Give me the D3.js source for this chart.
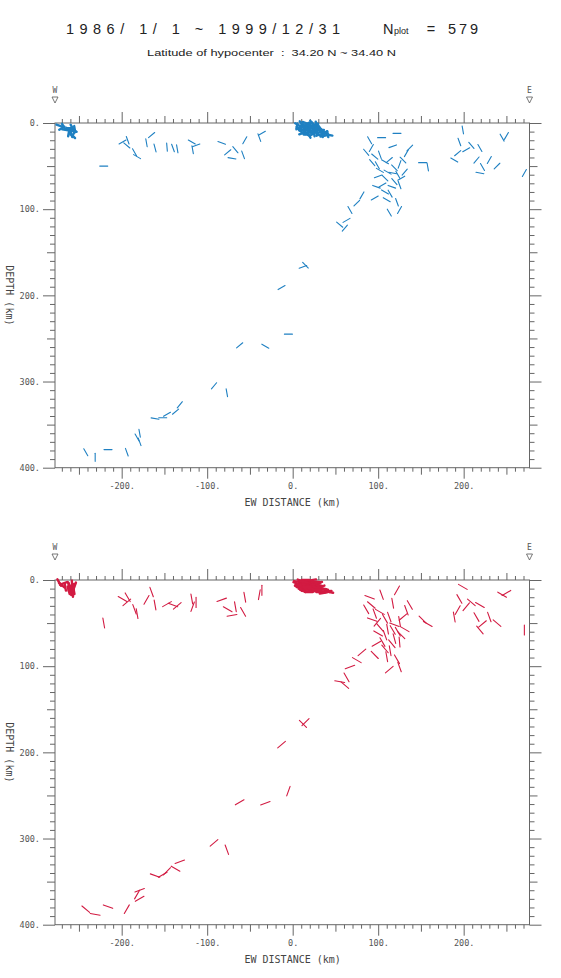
<!DOCTYPE html>
<html>
<head>
<meta charset="utf-8">
<script src="https://cdn.jsdelivr.net/npm/d3@7"></script>
<style>
  body { margin: 0; background: #fff; }
</style>
</head>
<body>
<div id="wrapper"></div>
<script>
// DATA: each event = [EW distance km, depth km, blue axis angle deg, red axis angle deg]
const westCluster = [
  [-273, 3, 20, 60], [-270, 6, -30, 40], [-268, 4, 60, -20], [-266, 8, 10, 80],
  [-262, 8, 45, 90], [-260, 10, 90, 70], [-258, 9, 30, 100], [-256, 12, 120, 80],
  [-259, 13, 70, 90], [-261, 6, 0, 60], [-255, 7, 80, 110], [-257, 15, 45, 90],
  [-262, 12, 100, 75], [-258, 5, 60, 85], [-256, 9, 20, 95]
]
const mainCluster = [
  [6, 2, 30, 10], [8, 5, -20, 0], [10, 1, 60, 20], [12, 4, 10, -10], [14, 7, 80, 15],
  [16, 2, -40, 5], [18, 5, 20, 30], [20, 8, 50, -15], [22, 3, -10, 10], [24, 6, 70, 0],
  [26, 9, 30, 20], [28, 4, -60, -5], [9, 9, 40, 10], [11, 12, -20, 25], [13, 10, 90, -20],
  [15, 13, 20, 5], [17, 11, -45, 15], [19, 14, 60, 0], [21, 11, 10, 30], [23, 13, -30, -10],
  [25, 12, 80, 10], [27, 7, 15, 20], [29, 9, -70, 0], [31, 6, 40, 15], [33, 8, 0, -20],
  [35, 10, 60, 10], [37, 11, -20, 5], [39, 12, 30, 25], [41, 13, 80, -5], [43, 14, 10, 10],
  [30, 12, -50, 20], [32, 14, 20, 0], [34, 13, 70, 15], [36, 15, -10, -10], [7, 7, 50, 5],
  [5, 4, -80, 20], [15, 0, 20, 0], [19, 1, -30, 10], [23, 0, 45, -10], [27, 2, 90, 5],
  [12, 8, 0, 15], [18, 9, 35, -5], [24, 10, -15, 20], [28, 11, 65, 0], [20, 4, -75, 10],
  [14, 4, 25, -15], [10, 6, -45, 5], [26, 5, 15, 25], [30, 3, 55, -10], [22, 9, -25, 0],
  [16, 6, 10, 5], [21, 6, -20, -5], [13, 2, 40, 10], [25, 8, -35, 15], [17, 8, 70, 0]
]
const shallowRow = [
  [-199, 22, -30, 30], [-193, 20, 70, 60], [-194, 26, 40, -40], [-185, 34, 60, 70],
  [-182, 39, 30, 80], [-171, 23, 80, -60], [-165, 14, -40, 70], [-161, 29, 75, 80],
  [-147, 28, 85, -30], [-140, 29, 70, 20], [-135, 30, 80, -40], [-118, 22, 30, 80],
  [-117, 31, 80, -70], [-113, 26, -20, 90], [-221, 50, 0, 80], [-83, 23, 20, -20],
  [-76, 34, -40, 30], [-67, 31, 50, 80], [-58, 37, 70, 60], [-56, 20, -60, 80],
  [-71, 41, 10, -10], [-39, 17, 70, 100], [-36, 12, -30, 90]
]
const eastCluster = [
  [104, 17, 0, 70], [122, 12, 0, -60], [117, 27, -20, 80], [86, 34, 50, 60], [92, 29, -60, 40],
  [96, 39, 40, 70], [102, 37, 70, 30], [108, 45, 30, 60], [99, 49, 60, -50], [113, 43, -40, 70],
  [119, 52, 45, 20], [111, 57, 30, 80], [123, 60, 60, 60], [127, 64, -30, 45], [119, 68, 50, 75],
  [116, 74, 20, 50], [125, 72, 70, 85], [131, 57, -50, 30], [133, 35, -60, 70], [129, 43, 45, -40],
  [137, 29, -45, 60], [90, 20, 60, 20], [102, 55, 30, 50], [108, 64, 45, 70], [152, 46, 0, 45],
  [158, 51, 80, 30], [98, 74, 20, -30], [105, 72, -30, 60], [96, 87, -30, 45], [110, 89, 30, 80],
  [122, 92, 70, 60], [113, 104, 60, -40], [125, 101, -60, 70], [75, 93, -45, 30], [67, 101, 60, -20],
  [63, 113, -30, 60], [55, 118, 40, 10], [61, 122, -50, 40], [81, 84, -60, -40], [108, 80, 30, 50],
  [114, 82, 60, 80], [100, 62, -20, 30], [117, 58, 10, 60], [93, 46, 50, 20], [125, 48, -70, 80]
]
const farEast = [
  [199, 8, 80, 30], [195, 22, 70, 60], [193, 35, -40, -60], [189, 43, 30, 80], [209, 26, 50, 40],
  [219, 29, 60, 30], [215, 43, -50, 60], [222, 51, 60, -40], [230, 43, -60, 70], [219, 58, 10, 50],
  [245, 17, 60, 30], [250, 15, -60, -30], [271, 58, -60, 90], [203, 31, -30, -50], [239, 50, -45, 40]
]
const slab = [
  [12, 167, -20, 45], [15, 165, 45, -45], [-13, 191, -30, -40], [-5, 245, 0, -70],
  [-62, 258, -40, -30], [-32, 259, 30, -20], [-92, 305, -50, -40], [-77, 313, 80, 70],
  [-132, 327, -50, -20], [-137, 335, -40, 30], [-152, 342, 0, -30], [-161, 343, 10, 20],
  [-179, 360, 80, -20], [-182, 365, 60, -60], [-179, 370, 70, -30], [-216, 379, 0, 20],
  [-231, 388, 90, 10], [-242, 382, 60, 40], [-194, 382, 70, -60], [-147, 338, -30, -45]
]

// tick values
const xMajor = [-200, -100, 0, 100, 200]
const xMedium = [-250, -150, -50, 50, 150, 250]
const xMinor = d3.range(-270, 271, 10).filter(v => v % 50 !== 0)
const yMajor = [0, 100, 200, 300, 400]
const yMedium = [50, 150, 250, 350]
const yMinor = d3.range(10, 400, 10).filter(v => v % 50 !== 0)

const titleText = "1986/ 1/ 1 ~ 1999/12/31"
const nplot = 579
const subtitleText = "Latitude of hypocenter \u00a0:\u00a0 34.20 N ~ 34.40 N"

async function drawChart() {

    const dimensions = {
        width: 561,
        height: 978,
        left: 55,
        right: 529.5,
        panelHeight: 344.7,
        panelTops: [123, 580]
    }

    const wrapper = d3.select('#wrapper')
        .append('svg')
        .attr('width', dimensions.width)
        .attr('height', dimensions.height)
        .style('font-family', "'DejaVu Sans Mono', monospace")

    wrapper.append('rect')
        .attr('width', dimensions.width)
        .attr('height', dimensions.height)
        .attr('fill', '#fff')

    // TITLE
    const title = wrapper.append('g').attr('fill', '#222')
        .style('font-family', "'Liberation Sans', Arial, sans-serif")
    title.append('text')
        .attr('x', 66).attr('y', 34)
        .attr('font-size', 14.5)
        .attr('textLength', 274).attr('lengthAdjust', 'spacing')
        .text(titleText)
    title.append('text')
        .attr('x', 383).attr('y', 34)
        .attr('font-size', 14.5)
        .text('N')
    title.append('text')
        .attr('x', 394).attr('y', 34)
        .attr('font-size', 9)
        .text('plot')
    title.append('text')
        .attr('x', 431).attr('y', 34)
        .attr('font-size', 14.5)
        .attr('text-anchor', 'middle')
        .text('=')
    title.append('text')
        .attr('x', 448).attr('y', 34)
        .attr('font-size', 14.5)
        .attr('textLength', 30).attr('lengthAdjust', 'spacing')
        .text(nplot)
    title.append('text')
        .attr('x', 147).attr('y', 56)
        .attr('font-size', 9)
        .attr('textLength', 249).attr('lengthAdjust', 'spacingAndGlyphs')
        .text(subtitleText)

    const xScale = d3.scaleLinear()
        .domain([-278, 277])
        .range([dimensions.left, dimensions.right])

    const groups = [westCluster, mainCluster, shallowRow, eastCluster, farEast, slab]
    const clusterSets = [westCluster, mainCluster]

    const panels = [
        { top: dimensions.panelTops[0], color: '#1f80c2', angle: 2, len: 8 },
        { top: dimensions.panelTops[1], color: '#d21b42', angle: 3, len: 10 }
    ]

    panels.forEach(panel => {
        const yScale = d3.scaleLinear()
            .domain([0, 400])
            .range([panel.top, panel.top + dimensions.panelHeight])

        const bounds = wrapper.append('g')

        const axisColor = '#666'
        const styleAxis = g => {
            g.select('.domain').remove()
            g.selectAll('line').attr('stroke', axisColor)
            g.selectAll('text')
                .attr('fill', '#555')
                .attr('font-size', 8.5)
                .style('font-family', "'DejaVu Sans Mono', monospace")
        }

        // x axes: bottom and top
        const xSets = [[xMinor, 4], [xMedium, 7], [xMajor, 11]]
        xSets.forEach(([vals, size], i) => {
            bounds.append('g')
                .attr('transform', `translate(0,${yScale(400)})`)
                .call(d3.axisBottom(xScale).tickValues(vals).tickSize(size).tickSizeOuter(0)
                    .tickPadding(4)
                    .tickFormat(i === 2 ? (d => d + '.') : ''))
                .call(styleAxis)
            bounds.append('g')
                .attr('transform', `translate(0,${yScale(0)})`)
                .call(d3.axisTop(xScale).tickValues(vals).tickSize(size).tickSizeOuter(0).tickFormat(''))
                .call(styleAxis)
        })

        // y axes: left and right
        const ySets = [[yMinor, 5], [yMedium, 8], [yMajor, 12]]
        ySets.forEach(([vals, size], i) => {
            bounds.append('g')
                .attr('transform', `translate(${dimensions.left},0)`)
                .call(d3.axisLeft(yScale).tickValues(vals).tickSize(size).tickSizeOuter(0)
                    .tickPadding(3)
                    .tickFormat(i === 2 ? (d => d + '.') : ''))
                .call(styleAxis)
            bounds.append('g')
                .attr('transform', `translate(${dimensions.right},0)`)
                .call(d3.axisRight(yScale).tickValues(vals).tickSize(size).tickSizeOuter(0).tickFormat(''))
                .call(styleAxis)
        })

        // frame
        bounds.append('rect')
            .attr('x', dimensions.left)
            .attr('y', yScale(0))
            .attr('width', dimensions.right - dimensions.left)
            .attr('height', yScale(400) - yScale(0))
            .attr('fill', 'none')
            .attr('stroke', axisColor)

        // axis titles
        bounds.append('text')
            .attr('x', xScale(0))
            .attr('y', yScale(400) + 38)
            .attr('text-anchor', 'middle')
            .attr('font-size', 10)
            .attr('fill', '#444')
            .text('EW DISTANCE (km)')

        bounds.append('text')
            .attr('transform', `translate(6,${(yScale(0) + yScale(400)) / 2}) rotate(90)`)
            .attr('text-anchor', 'middle')
            .attr('font-size', 10)
            .attr('fill', '#444')
            .text('DEPTH (km)')

        // W / E markers
        const markers = [['W', dimensions.left], ['E', dimensions.right]]
        markers.forEach(([label, mx]) => {
            const my = yScale(0)
            bounds.append('text')
                .attr('x', mx).attr('y', my - 30)
                .attr('text-anchor', 'middle')
                .attr('font-size', 8)
                .attr('fill', '#555')
                .text(label)
            bounds.append('path')
                .attr('d', `M${mx - 3},${my - 26} L${mx + 3},${my - 26} L${mx},${my - 20} Z`)
                .attr('fill', 'none')
                .attr('stroke', '#555')
                .attr('stroke-width', 0.8)
        })

        // event bars
        groups.forEach(group => {
            const isCluster = clusterSets.includes(group)
            const half = (isCluster ? panel.len * 0.75 : panel.len) / 2
            bounds.append('g')
                .selectAll('line')
                .data(group)
                .join('line')
                .attr('x1', d => xScale(d[0]) - half * Math.cos(d[panel.angle] * Math.PI / 180))
                .attr('y1', d => yScale(d[1]) - half * Math.sin(d[panel.angle] * Math.PI / 180))
                .attr('x2', d => xScale(d[0]) + half * Math.cos(d[panel.angle] * Math.PI / 180))
                .attr('y2', d => yScale(d[1]) + half * Math.sin(d[panel.angle] * Math.PI / 180))
                .attr('stroke', panel.color)
                .attr('stroke-width', isCluster ? 2.4 : 1.1)
                .attr('stroke-linecap', 'round')
        })
    })
}
drawChart()
</script>
</body>
</html>
